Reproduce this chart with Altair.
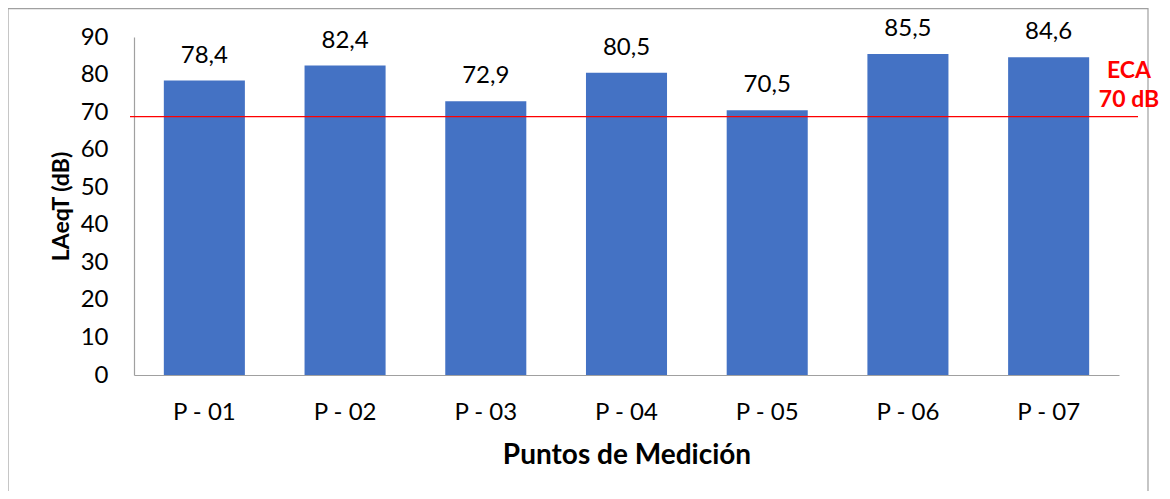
import altair as alt
import pandas as pd

puntos = ["P - 01", "P - 02", "P - 03", "P - 04", "P - 05", "P - 06", "P - 07"]
laeqt = [78.4, 82.4, 72.9, 80.5, 70.5, 85.5, 84.6]
eca_level = 68.8
eca_label = ["ECA", "70 dB"]
y_ticks = [0, 10, 20, 30, 40, 50, 60, 70, 80, 90]

df = pd.DataFrame({
    "punto": puntos,
    "valor": laeqt,
    "etiqueta": [f"{v:.1f}".replace(".", ",") for v in laeqt],
})

FONT = "Lato"
W, H = 985, 338

x_enc = alt.X(
    "punto:N",
    sort=puntos,
    scale=alt.Scale(paddingInner=0.424, paddingOuter=0.212),
    axis=alt.Axis(
        title="Puntos de Medición",
        labelAngle=0,
        labelFont=FONT,
        labelFontSize=24,
        labelColor="black",
        labelPadding=25,
        labelOverlap=False,
        ticks=False,
        tickSize=0,
        domainColor="#a0a0a0",
        domainWidth=1.2,
        titleFont=FONT,
        titleFontSize=28,
        titleFontWeight="bold",
        titleColor="black",
        titleBaseline="alphabetic",
        titleY=88,
        titleX=W / 2,
    ),
)
y_enc = alt.Y(
    "valor:Q",
    scale=alt.Scale(domain=[0, 90], nice=False),
    axis=alt.Axis(
        title="LAeqT (dB)",
        values=y_ticks,
        tickCount=10,
        grid=False,
        ticks=False,
        tickSize=0,
        labelOverlap=False,
        labelFont=FONT,
        labelFontSize=24,
        labelColor="black",
        labelPadding=26,
        domainColor="#a0a0a0",
        domainWidth=1.2,
        titleFont=FONT,
        titleFontSize=23,
        titleFontWeight="bold",
        titleColor="black",
        titleAngle=-90,
        titleBaseline="middle",
        titleAlign="center",
        titleX=-73,
        titleY=H / 2,
    ),
)

base = alt.Chart(df).encode(x=x_enc, y=y_enc)

bars = base.mark_bar(color="#4472C4")

labels = base.mark_text(
    font=FONT, fontSize=24, color="black", baseline="alphabetic", dy=-18
).encode(text="etiqueta:N")

one = pd.DataFrame({"a": [0]})

eca_rule = alt.Chart(one).mark_rule(color="#FF0000", strokeWidth=1.3).encode(
    y=alt.datum(eca_level), x=alt.value(-4), x2=alt.value(1004)
)

eca_text = alt.Chart(one).mark_text(
    font=FONT, fontSize=23, fontWeight="bold", color="#FF0000",
    align="center", baseline="alphabetic", lineHeight=29,
).encode(x=alt.value(995), y=alt.value(41), text=alt.value(eca_label))

frame = alt.Chart(one).mark_rect(
    fill="transparent", stroke="#a0a0a0", strokeWidth=1.2
).encode(x=alt.value(-126), x2=alt.value(1014), y=alt.value(-28.4), y2=alt.value(480))

chart = alt.layer(frame, bars, labels, eca_rule, eca_text).properties(
    width=W,
    height=H,
    autosize=alt.AutoSizeParams(type="none"),
    padding={"left": 126, "top": 29, "right": 43, "bottom": 116},
    background="white",
).configure_view(stroke=None).configure_axis(labelOverlap=False)

chart.save("out.html", embed_options={"renderer": "svg", "actions": False})
